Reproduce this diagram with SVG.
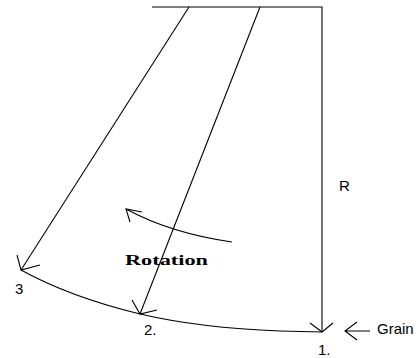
<svg xmlns="http://www.w3.org/2000/svg" width="419" height="358" viewBox="0 0 419 358">
<style>
.ln{fill:none;stroke:#000;stroke-width:1.1}
.lbl{font-family:"Liberation Sans",Arial,sans-serif;font-size:15px;fill:#000}
</style>
<rect width="419" height="358" fill="#fff"/>
<g id="connectors">
<path class="ln" d="M152,7 L322,7 L322,332"/>
<path class="ln" d="M189,7 L21,270"/>
<path class="ln" d="M260,7 L140,314"/>
<path class="ln" d="M21,270 Q70,297 140,314 Q200,328 280,331 L322,332"/>
<path class="ln" d="M310,323 L322,332 L333,323"/>
<path class="ln" d="M132,300 L140,314 L157,310"/>
<path class="ln" d="M17,255 L21,270 L40,265"/>
<path class="ln" d="M232,242 Q170,233 126,209"/>
<path class="ln" d="M142,212 L126,209 L130,222"/>
<path class="ln" d="M357,322 L345,331 L357,340 M345,331 L370,331"/>
</g>
<g id="n1"><text class="lbl" x="318" y="355">1.</text></g>
<g id="n2"><text class="lbl" x="144" y="335">2.</text></g>
<g id="n3"><text class="lbl" x="15" y="294">3</text></g>
<g id="nR"><text class="lbl" x="339" y="191">R</text></g>
<g id="nGrain"><text class="lbl" x="377" y="334">Grain</text></g>
<g id="nRotation"><text x="125" y="265" font-family="'Liberation Serif','Times New Roman',serif" font-weight="bold" font-size="15" textLength="83" lengthAdjust="spacingAndGlyphs">Rotation</text></g>
</svg>
